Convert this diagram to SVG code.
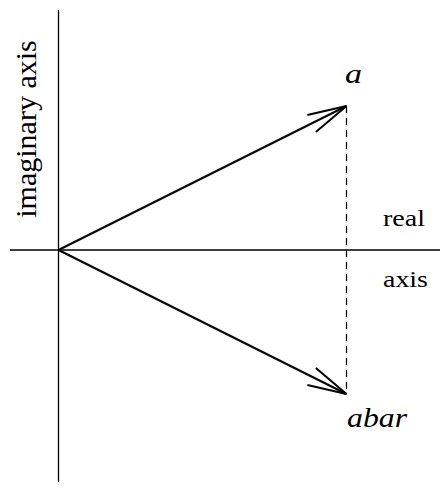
<svg xmlns="http://www.w3.org/2000/svg" width="440" height="489" viewBox="0 0 440 489">
<style>
.axis{stroke:#000;stroke-width:1.3;fill:none}
.vec{stroke:#000;stroke-width:2;fill:none}
.dash{stroke:#000;stroke-width:1.2;stroke-dasharray:7 5;fill:none}
.lbl{font-family:"Liberation Serif","Times New Roman",serif;fill:#000}
.it{font-style:italic}
</style>
<defs>
<marker id="vhead" markerUnits="userSpaceOnUse" markerWidth="50" markerHeight="30" refX="0" refY="0" viewBox="-45 -15 50 30" orient="auto" overflow="visible">
<path d="M-39,-9.5 L0,0 L-39,9.5" fill="none" stroke="#000" stroke-width="2"/>
</marker>
</defs>
<g id="connectors">
<line class="axis" x1="58.5" y1="10" x2="58.5" y2="482"/>
<line class="axis" x1="10" y1="250" x2="440" y2="250"/>
<line class="dash" x1="346.5" y1="106" x2="346.5" y2="394"/>
<line class="vec" x1="58.5" y1="250" x2="346.5" y2="106" marker-end="url(#vhead)"/>
<line class="vec" x1="58.5" y1="250" x2="346.5" y2="394" marker-end="url(#vhead)"/>
</g>
<g id="label-imag">
<text class="lbl" font-size="30" text-anchor="middle" transform="translate(36,129) rotate(-90)">imaginary axis</text>
</g>
<g id="label-real">
<text class="lbl" x="383" y="226" font-size="24" textLength="42" lengthAdjust="spacingAndGlyphs">real</text>
<text class="lbl" x="383" y="287" font-size="24" textLength="45" lengthAdjust="spacingAndGlyphs">axis</text>
</g>
<g id="node-a">
<text class="lbl it" x="345" y="82.5" font-size="28" textLength="17" lengthAdjust="spacingAndGlyphs">a</text>
</g>
<g id="node-abar">
<text class="lbl it" x="347" y="427" font-size="28" textLength="60" lengthAdjust="spacingAndGlyphs">abar</text>
</g>
</svg>
